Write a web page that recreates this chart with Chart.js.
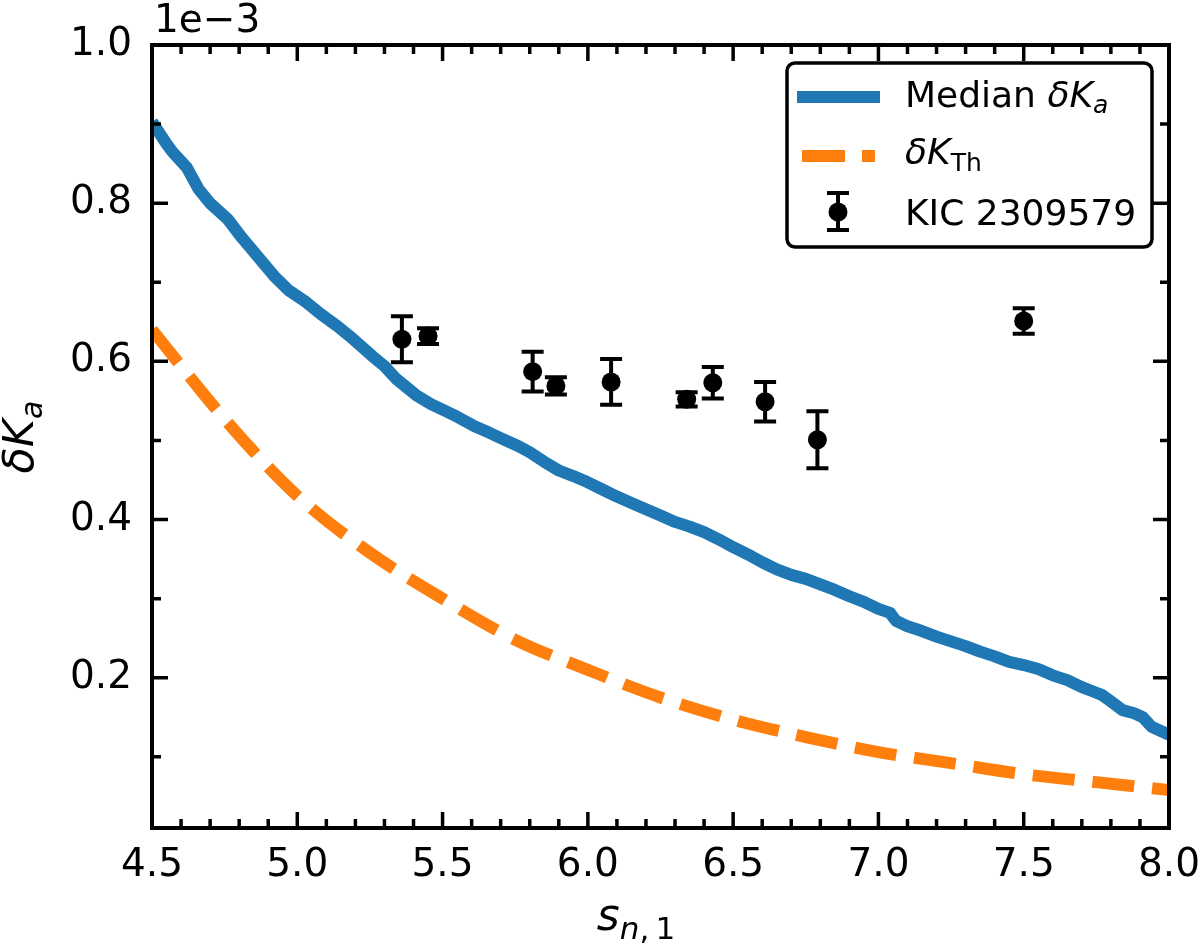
<!DOCTYPE html>
<html>
<head>
<meta charset="utf-8">
<script src="https://cdn.jsdelivr.net/npm/chart.js@4"></script>
<style>body{margin:0;background:#fff}</style>
</head>
<body>
<canvas id="c" width="1200" height="947"></canvas>
<script>
// values are in units of 1e-3
const medianX = [4.50, 4.55, 4.57, 4.62, 4.66, 4.70, 4.76, 4.81, 4.87, 4.92, 4.97, 5.03, 5.08, 5.14, 5.18, 5.22,
    5.26, 5.30, 5.34, 5.38, 5.41, 5.46, 5.50, 5.55, 5.61, 5.66, 5.70, 5.76, 5.80, 5.85, 5.90, 5.95, 6.00, 6.05,
    6.10, 6.15, 6.20, 6.25, 6.30, 6.35, 6.40, 6.45, 6.50, 6.55, 6.60, 6.65, 6.70, 6.75, 6.80, 6.85, 6.90, 6.95,
    7.00, 7.04, 7.06, 7.10, 7.15, 7.20, 7.25, 7.30, 7.35, 7.40, 7.45, 7.50, 7.55, 7.60, 7.65, 7.70, 7.75, 7.77,
    7.80, 7.84, 7.88, 7.91, 7.94, 7.97, 8.00];
const medianY = [0.903, 0.875, 0.865, 0.845, 0.818, 0.800, 0.780, 0.756, 0.730, 0.708, 0.690, 0.675, 0.660, 0.644, 0.632, 0.619,
    0.606, 0.594, 0.578, 0.566, 0.557, 0.546, 0.539, 0.530, 0.518, 0.510, 0.503, 0.493, 0.485, 0.473, 0.462, 0.455, 0.447, 0.438,
    0.429, 0.421, 0.413, 0.405, 0.397, 0.391, 0.384, 0.375, 0.365, 0.356, 0.346, 0.337, 0.330, 0.325, 0.318, 0.311, 0.303, 0.296,
    0.287, 0.282, 0.272, 0.265, 0.259, 0.252, 0.246, 0.240, 0.233, 0.227, 0.220, 0.216, 0.211, 0.203, 0.197, 0.188, 0.181, 0.178,
    0.170, 0.159, 0.155, 0.150, 0.138, 0.133, 0.128];

const thX = [4.50, 4.75, 5.00, 5.25, 5.50, 5.75, 6.00, 6.25, 6.50, 6.75, 7.00, 7.25, 7.50, 7.75, 8.00];
const thY = [0.640, 0.527, 0.430, 0.358, 0.300, 0.248, 0.210, 0.175, 0.147, 0.125, 0.106, 0.092, 0.078, 0.068, 0.058];

const kicX = [5.36, 5.45, 5.81, 5.89, 6.08, 6.34, 6.43, 6.61, 6.79, 7.50];
const kicY = [0.628, 0.632, 0.587, 0.569, 0.574, 0.552, 0.573, 0.549, 0.501, 0.651];
const kicErr = [0.029, 0.010, 0.025, 0.011, 0.029, 0.009, 0.020, 0.025, 0.036, 0.016];

const xMajor = [4.5, 5.0, 5.5, 6.0, 6.5, 7.0, 7.5, 8.0];
const xMinor = [4.6, 4.7, 4.8, 4.9, 5.1, 5.2, 5.3, 5.4, 5.6, 5.7, 5.8, 5.9, 6.1, 6.2, 6.3, 6.4,
    6.6, 6.7, 6.8, 6.9, 7.1, 7.2, 7.3, 7.4, 7.6, 7.7, 7.8, 7.9];
const yMajor = [0.2, 0.4, 0.6, 0.8, 1.0];
const yMinor = [0.1, 0.3, 0.5, 0.7, 0.9];

const FONT = '"DejaVu Sans"';
const BLUE = '#1f77b4';
const ORANGE = '#ff7f0e';

// draw a sequence of text pieces (for sub-scripts / italics)
function drawRuns(ctx, runs, x, y, align) {
    let total = 0;
    runs.forEach(r => { ctx.font = r.f; r.w = ctx.measureText(r.t).width; total += r.w; });
    let cx = align === 'center' ? x - total / 2 : x;
    ctx.textAlign = 'left';
    ctx.textBaseline = 'alphabetic';
    runs.forEach(r => {
        ctx.font = r.f;
        ctx.fillText(r.t, cx, y + (r.dy || 0));
        cx += r.w;
    });
}

const decorations = {
    id: 'decorations',
    beforeDatasetsDraw(chart) {
        // error bars
        const ctx = chart.ctx;
        const xs = chart.scales.x, ys = chart.scales.y;
        ctx.save();
        ctx.strokeStyle = '#000';
        ctx.lineWidth = 4;
        kicX.forEach((xv, i) => {
            const px = xs.getPixelForValue(xv);
            const top = ys.getPixelForValue(kicY[i] + kicErr[i]);
            const bot = ys.getPixelForValue(kicY[i] - kicErr[i]);
            ctx.beginPath();
            ctx.moveTo(px, top); ctx.lineTo(px, bot);
            ctx.moveTo(px - 11, top); ctx.lineTo(px + 11, top);
            ctx.moveTo(px - 11, bot); ctx.lineTo(px + 11, bot);
            ctx.stroke();
        });
        ctx.restore();
    },
    afterDraw(chart) {
        const ctx = chart.ctx;
        const a = chart.chartArea;
        const xs = chart.scales.x, ys = chart.scales.y;
        ctx.save();
        ctx.fillStyle = '#000';
        ctx.strokeStyle = '#000';

        // ticks on all four sides, pointing inwards
        ctx.lineWidth = 3.5;
        ctx.beginPath();
        const tickX = (v, len) => {
            const p = xs.getPixelForValue(v);
            ctx.moveTo(p, a.bottom); ctx.lineTo(p, a.bottom - len);
            ctx.moveTo(p, a.top); ctx.lineTo(p, a.top + len);
        };
        const tickY = (v, len) => {
            const p = ys.getPixelForValue(v);
            ctx.moveTo(a.left, p); ctx.lineTo(a.left + len, p);
            ctx.moveTo(a.right, p); ctx.lineTo(a.right - len, p);
        };
        xMajor.forEach(v => tickX(v, 16));
        xMinor.forEach(v => tickX(v, 9));
        yMajor.forEach(v => tickY(v, 16));
        yMinor.forEach(v => tickY(v, 9));
        ctx.stroke();

        // frame
        ctx.lineWidth = 4;
        ctx.strokeRect(a.left, a.top, a.right - a.left, a.bottom - a.top);

        // offset text
        ctx.font = '39px ' + FONT;
        ctx.textAlign = 'left';
        ctx.textBaseline = 'alphabetic';
        ctx.fillText('1e\u22123', a.left + 2, 32);

        // x title
        drawRuns(ctx, [
            { t: 's', f: 'italic 44px ' + FONT },
            { t: 'n', f: 'italic 31px ' + FONT, dy: 9 },
            { t: ',\u2009', f: '31px ' + FONT, dy: 9 },
            { t: '1', f: '31px ' + FONT, dy: 9 }
        ], 636, 930, 'center');

        // y title
        ctx.save();
        ctx.translate(33, 437);
        ctx.rotate(-Math.PI / 2);
        drawRuns(ctx, [
            { t: '\u03b4K', f: 'italic 43px ' + FONT },
            { t: 'a', f: 'italic 30px ' + FONT, dy: 9 }
        ], 0, 0, 'center');
        ctx.restore();

        // legend
        ctx.beginPath();
        ctx.roundRect(787, 63, 365, 184, 8);
        ctx.fillStyle = '#fff';
        ctx.fill();
        ctx.lineWidth = 3.5;
        ctx.stroke();

        ctx.lineCap = 'butt';
        ctx.lineWidth = 12;
        ctx.strokeStyle = BLUE;
        ctx.beginPath(); ctx.moveTo(797, 97); ctx.lineTo(880, 97); ctx.stroke();
        ctx.strokeStyle = ORANGE;
        ctx.beginPath();
        ctx.moveTo(802, 156); ctx.lineTo(845, 156);
        ctx.moveTo(862, 156); ctx.lineTo(875, 156);
        ctx.stroke();

        ctx.strokeStyle = '#000';
        ctx.lineWidth = 4;
        ctx.beginPath();
        ctx.moveTo(838, 193); ctx.lineTo(838, 230);
        ctx.moveTo(827, 193); ctx.lineTo(849, 193);
        ctx.moveTo(827, 230); ctx.lineTo(849, 230);
        ctx.stroke();
        ctx.beginPath(); ctx.arc(838, 212, 9.5, 0, Math.PI * 2); ctx.fillStyle = '#000'; ctx.fill();

        drawRuns(ctx, [
            { t: 'Median ', f: '36px ' + FONT },
            { t: '\u03b4K', f: 'italic 36px ' + FONT },
            { t: 'a', f: 'italic 25px ' + FONT, dy: 6 }
        ], 905, 107, 'left');
        drawRuns(ctx, [
            { t: '\u03b4K', f: 'italic 36px ' + FONT },
            { t: 'Th', f: '25px ' + FONT, dy: 7 }
        ], 905, 164, 'left');
        drawRuns(ctx, [
            { t: 'KIC 2309579', f: '36px ' + FONT }
        ], 905, 225, 'left');

        ctx.restore();
    }
};

const tickFont = { family: FONT, size: 39 };

new Chart(document.getElementById('c'), {
    type: 'line',
    data: {
        datasets: [
            {
                label: 'KIC 2309579',
                data: kicX.map((x, i) => ({ x, y: kicY[i] })),
                showLine: false,
                pointRadius: 9.5,
                pointBackgroundColor: '#000',
                pointBorderWidth: 0,
                order: 0
            },
            {
                label: 'δK_Th',
                data: thX.map((x, i) => ({ x, y: thY[i] })),
                borderColor: ORANGE,
                borderWidth: 12,
                borderDash: [42, 18],
                borderCapStyle: 'butt',
                cubicInterpolationMode: 'monotone',
                pointRadius: 0,
                order: 1
            },
            {
                label: 'Median δK_a',
                data: medianX.map((x, i) => ({ x, y: medianY[i] })),
                borderColor: BLUE,
                borderWidth: 12,
                borderJoinStyle: 'round',
                tension: 0,
                pointRadius: 0,
                order: 2
            }
        ]
    },
    options: {
        responsive: false,
        devicePixelRatio: 1,
        animation: false,
        layout: { padding: { top: 45, right: 31, left: 0, bottom: 0 } },
        plugins: { legend: { display: false }, tooltip: { enabled: false } },
        scales: {
            x: {
                type: 'linear',
                min: 4.5,
                max: 8.0,
                grid: { display: false, drawTicks: false },
                border: { display: false },
                ticks: {
                    font: tickFont,
                    color: '#000',
                    padding: 14,
                    autoSkip: false,
                    maxRotation: 0,
                    callback: v => v.toFixed(1)
                },
                afterBuildTicks: s => { s.ticks = xMajor.map(v => ({ value: v })); },
                afterFit: s => { s.height = 119; s.paddingLeft = 0; s.paddingRight = 0; }
            },
            y: {
                type: 'linear',
                min: 0.01,
                max: 1.0,
                grid: { display: false, drawTicks: false },
                border: { display: false },
                ticks: {
                    font: tickFont,
                    color: '#000',
                    padding: 20,
                    callback: v => v.toFixed(1)
                },
                afterBuildTicks: s => { s.ticks = yMajor.map(v => ({ value: v })); },
                afterFit: s => { s.width = 152; s.paddingTop = 0; s.paddingBottom = 0; }
            }
        }
    },
    plugins: [decorations]
});
</script>
</body>
</html>
